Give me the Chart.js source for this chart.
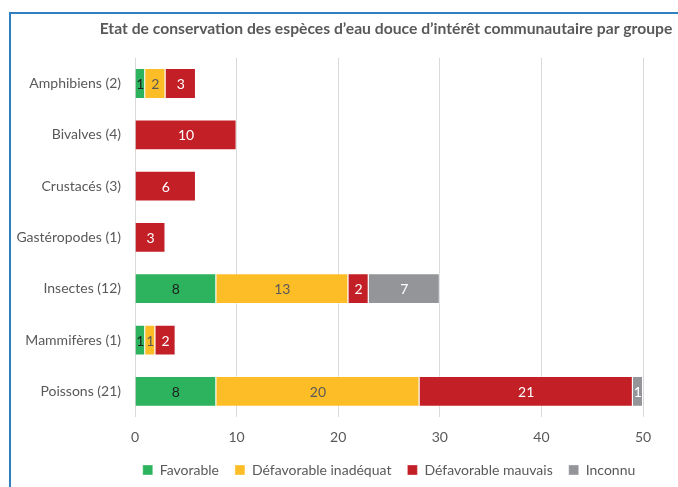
<!DOCTYPE html>
<html lang="fr">
<head>
<meta charset="utf-8">
<script src="https://cdn.jsdelivr.net/npm/chart.js@4/dist/chart.umd.min.js"></script>
<style>
    html, body { margin: 0; padding: 0; background: #fff; overflow: hidden; }
    body { width: 678px; height: 487px; position: relative; }
    /* blue frame of the original figure, cropped on the right and bottom */
    #frame {
        position: absolute; left: 9px; top: 12px; width: 760px; height: 480px;
        border-left: 2px solid #2f7fc1; border-top: 2px solid #2f7fc1;
    }
    #wrap { position: absolute; left: 11px; top: 14px; width: 760px; height: 473px; }
</style>
</head>
<body>
<div id="frame"></div>
<div id="wrap"><canvas id="chart" width="760" height="473"></canvas></div>
<script>
// ─── Data ─────────────────────────────────────────
const groups = [
    'Amphibiens (2)', 'Bivalves (4)', 'Crustacés (3)', 'Gastéropodes (1)',
    'Insectes (12)', 'Mammifères (1)', 'Poissons (21)',
];
const favorable    = [1, 0, 0, 0, 8, 1, 8];
const inadequat    = [2, 0, 0, 0, 13, 1, 20];
const mauvais      = [3, 10, 6, 3, 2, 2, 21];
const inconnu      = [0, 0, 0, 0, 7, 0, 1];
const xTicks       = [0, 10, 20, 30, 40, 50];

const FONT = 'Lato';
const GREY_TEXT = '#595959';

const series = [
    { label: 'Favorable', data: favorable, color: '#2db35d', text: '#1e1e1e' },
    { label: 'Défavorable inadéquat', data: inadequat, color: '#fdbd27', text: '#595959' },
    { label: 'Défavorable mauvais', data: mauvais, color: '#c21f27', text: '#ffffff' },
    { label: 'Inconnu', data: inconnu, color: '#949598', text: '#ffffff' },
];

// Value labels in the middle of each segment (no datalabels plugin available)
const segmentLabels = {
    id: 'segmentLabels',
    afterDatasetsDraw(chart) {
        const ctx = chart.ctx;
        ctx.save();
        ctx.font = `14px ${FONT}`;
        ctx.textAlign = 'center';
        ctx.textBaseline = 'middle';
        chart.data.datasets.forEach((ds, i) => {
            chart.getDatasetMeta(i).data.forEach((bar, j) => {
                const v = ds.data[j];
                if (!v) return;
                ctx.fillStyle = series[i].text;
                ctx.fillText(String(v), (bar.x + bar.base) / 2, bar.y + 1);
            });
        });
        ctx.restore();
    }
};

// Title and legend are centred on the plot area, not on the whole canvas
const centreOnPlot = {
    id: 'centreOnPlot',
    afterLayout(chart) {
        const c = (chart.chartArea.left + chart.chartArea.right) / 2;
        if (chart.titleBlock) {
            chart.titleBlock.left = c - 383;
            chart.titleBlock.right = c + 377;
        }
        if (chart.legend) {
            chart.legend.left = c - 380;
            chart.legend.right = c + 380;
        }
    }
};

new Chart(document.getElementById('chart'), {
    type: 'bar',
    data: {
        labels: groups,
        datasets: series.map(s => ({
            label: s.label,
            data: s.data,
            backgroundColor: s.color,
            borderColor: 'rgba(255,255,255,0.35)',
            borderWidth: 1,
            categoryPercentage: 1,
            barPercentage: 0.6,
        })),
    },
    options: {
        indexAxis: 'y',
        responsive: false,
        animation: false,
        layout: { padding: { left: 0, right: 128, top: 0, bottom: 0 } },
        plugins: {
            title: {
                display: true,
                text: 'Etat de conservation des espèces d’eau douce d’intérêt communautaire par groupe',
                color: GREY_TEXT,
                font: { family: FONT, size: 15.7, weight: 'bold' },
                padding: { top: 6, bottom: 19 },
            },
            legend: {
                position: 'bottom',
                labels: {
                    color: GREY_TEXT,
                    font: { family: FONT, size: 14 },
                    boxWidth: 10, boxHeight: 10,
                    padding: 16,
                },
            },
            tooltip: { enabled: false },
        },
        scales: {
            x: {
                stacked: true,
                min: 0, max: 50,
                afterBuildTicks: s => { s.ticks = xTicks.map(v => ({ value: v })); },
                grid: { color: '#d9d9d9', drawTicks: false },
                border: { display: false },
                ticks: { color: GREY_TEXT, font: { family: FONT, size: 14 }, padding: 12 },
                afterFit: s => { s.height = 30; },
            },
            y: {
                stacked: true,
                grid: { display: false, drawTicks: false },
                border: { display: false },
                ticks: { color: GREY_TEXT, font: { family: FONT, size: 14 }, padding: 14 },
                afterFit: s => { s.width = 124; },
            },
        },
    },
    plugins: [segmentLabels, centreOnPlot],
});
</script>
</body>
</html>
